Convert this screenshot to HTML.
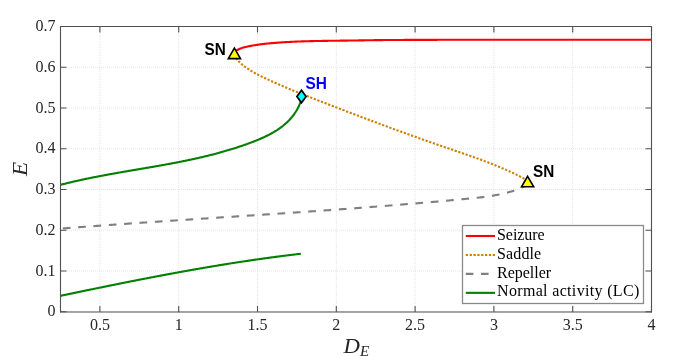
<!DOCTYPE html>
<html><head><meta charset="utf-8"><style>
html,body{margin:0;padding:0;background:#fff;width:685px;height:356px;overflow:hidden;}
svg{display:block;will-change:transform;}
</style></head><body>
<svg width="685" height="356" viewBox="0 0 685 356">
<rect x="0" y="0" width="685" height="356" fill="#fff"/>
<path d="M99.90,27 L99.90,311.7 M178.70,27 L178.70,311.7 M257.50,27 L257.50,311.7 M336.30,27 L336.30,311.7 M415.10,27 L415.10,311.7 M493.90,27 L493.90,311.7 M572.70,27 L572.70,311.7 M651.50,27 L651.50,311.7 M61,311.70 L651.5,311.70 M61,270.96 L651.5,270.96 M61,230.21 L651.5,230.21 M61,189.47 L651.5,189.47 M61,148.73 L651.5,148.73 M61,107.99 L651.5,107.99 M61,67.24 L651.5,67.24 M61,26.50 L651.5,26.50" stroke="#e4e4e4" stroke-width="1" stroke-dasharray="1 1" fill="none"/>
<path d="M60.59,295.82 L61.38,295.65 L62.18,295.48 L62.98,295.32 L63.78,295.15 L64.58,294.98 L65.38,294.81 L66.17,294.65 L66.97,294.48 L67.77,294.31 L68.57,294.14 L69.37,293.98 L70.16,293.81 L70.96,293.64 L71.76,293.47 L72.56,293.31 L73.36,293.14 L74.16,292.97 L74.96,292.81 L75.75,292.64 L76.55,292.47 L77.35,292.31 L78.15,292.14 L78.95,291.97 L79.75,291.81 L80.55,291.64 L81.34,291.47 L82.14,291.31 L82.94,291.14 L83.74,290.98 L84.54,290.81 L85.34,290.64 L86.14,290.48 L86.94,290.31 L87.73,290.15 L88.53,289.98 L89.33,289.82 L90.13,289.65 L90.93,289.49 L91.73,289.32 L92.53,289.16 L93.33,288.99 L94.13,288.83 L94.92,288.66 L95.72,288.50 L96.52,288.33 L97.32,288.17 L98.12,288.01 L98.92,287.84 L99.72,287.68 L100.52,287.51 L101.32,287.35 L102.12,287.19 L102.92,287.02 L103.72,286.86 L104.52,286.70 L105.32,286.53 L106.12,286.37 L106.91,286.21 L107.71,286.04 L108.51,285.88 L109.31,285.72 L110.11,285.56 L110.91,285.39 L111.71,285.23 L112.51,285.07 L113.31,284.91 L114.11,284.75 L114.91,284.59 L115.71,284.42 L116.51,284.26 L117.31,284.10 L118.11,283.94 L118.91,283.78 L119.71,283.62 L120.51,283.46 L121.31,283.30 L122.11,283.14 L122.91,282.98 L123.71,282.82 L124.51,282.66 L125.31,282.50 L126.11,282.34 L126.91,282.18 L127.71,282.02 L128.51,281.86 L129.31,281.70 L130.11,281.54 L130.91,281.39 L131.71,281.23 L132.52,281.07 L133.32,280.91 L134.12,280.75 L134.92,280.60 L135.72,280.44 L136.52,280.28 L137.32,280.12 L138.12,279.97 L138.92,279.81 L139.72,279.65 L140.52,279.50 L141.32,279.34 L142.12,279.19 L142.93,279.03 L143.73,278.87 L144.53,278.72 L145.33,278.56 L146.13,278.41 L146.93,278.25 L147.73,278.10 L148.53,277.94 L149.33,277.79 L150.14,277.64 L150.94,277.48 L151.74,277.33 L152.54,277.17 L153.34,277.02 L154.14,276.87 L154.94,276.72 L155.75,276.56 L156.55,276.41 L157.35,276.26 L158.15,276.11 L158.95,275.95 L159.75,275.80 L160.56,275.65 L161.36,275.50 L162.16,275.35 L162.96,275.20 L163.76,275.05 L164.57,274.90 L165.37,274.75 L166.17,274.60 L166.97,274.45 L167.77,274.30 L168.58,274.15 L169.38,274.00 L170.18,273.85 L170.98,273.70 L171.79,273.55 L172.59,273.41 L173.39,273.26 L174.19,273.11 L175.00,272.96 L175.80,272.82 L176.60,272.67 L177.40,272.52 L178.21,272.38 L179.01,272.23 L179.81,272.08 L180.61,271.94 L181.42,271.79 L182.22,271.65 L183.02,271.50 L183.83,271.36 L184.63,271.21 L185.43,271.07 L186.24,270.93 L187.04,270.78 L187.84,270.64 L188.65,270.50 L189.45,270.35 L190.25,270.21 L191.06,270.07 L191.86,269.93 L192.66,269.79 L193.47,269.64 L194.27,269.50 L195.07,269.36 L195.88,269.22 L196.68,269.08 L197.48,268.94 L198.29,268.80 L199.09,268.66 L199.90,268.52 L200.70,268.38 L201.50,268.24 L202.31,268.11 L203.11,267.97 L203.92,267.83 L204.72,267.69 L205.52,267.56 L206.33,267.42 L207.13,267.28 L207.94,267.15 L208.74,267.01 L209.55,266.87 L210.35,266.74 L211.16,266.60 L211.96,266.47 L212.76,266.33 L213.57,266.20 L214.37,266.06 L215.18,265.93 L215.98,265.80 L216.79,265.66 L217.59,265.53 L218.40,265.40 L219.20,265.27 L220.01,265.14 L220.81,265.00 L221.62,264.87 L222.42,264.74 L223.23,264.61 L224.04,264.48 L224.84,264.35 L225.65,264.22 L226.45,264.09 L227.26,263.96 L228.06,263.83 L228.87,263.71 L229.67,263.58 L230.48,263.45 L231.29,263.32 L232.09,263.20 L232.90,263.07 L233.70,262.94 L234.51,262.82 L235.32,262.69 L236.12,262.57 L236.93,262.44 L237.73,262.32 L238.54,262.19 L239.35,262.07 L240.15,261.95 L240.96,261.82 L241.77,261.70 L242.57,261.58 L243.38,261.45 L244.19,261.33 L244.99,261.21 L245.80,261.09 L246.61,260.97 L247.41,260.85 L248.22,260.73 L249.03,260.61 L249.83,260.49 L250.64,260.37 L251.45,260.25 L252.26,260.13 L253.06,260.02 L253.87,259.90 L254.68,259.78 L255.49,259.66 L256.29,259.55 L257.10,259.43 L257.91,259.32 L258.72,259.20 L259.52,259.09 L260.33,258.97 L261.14,258.86 L261.95,258.74 L262.76,258.63 L263.56,258.52 L264.37,258.41 L265.18,258.29 L265.99,258.18 L266.80,258.07 L267.60,257.96 L268.41,257.85 L269.22,257.74 L270.03,257.63 L270.84,257.52 L271.65,257.41 L272.46,257.30 L273.26,257.19 L274.07,257.09 L274.88,256.98 L275.69,256.87 L276.50,256.76 L277.31,256.66 L278.12,256.55 L278.93,256.45 L279.74,256.34 L280.55,256.24 L281.36,256.13 L282.16,256.03 L282.97,255.93 L283.78,255.82 L284.59,255.72 L285.40,255.62 L286.21,255.52 L287.02,255.42 L287.83,255.32 L288.64,255.22 L289.45,255.12 L290.26,255.02 L291.07,254.92 L291.88,254.82 L292.69,254.72 L293.50,254.62 L294.31,254.52 L295.12,254.43 L295.93,254.33 L296.74,254.24 L297.56,254.14 L298.37,254.04 L299.18,253.95 L299.99,253.86 L300.80,253.76" stroke="#008000" stroke-width="2.1" fill="none" stroke-linejoin="round"/>
<path d="M60.66,184.79 L61.52,184.56 L62.39,184.34 L63.26,184.12 L64.13,183.90 L64.99,183.68 L65.86,183.46 L66.73,183.25 L67.60,183.04 L68.47,182.83 L69.34,182.62 L70.21,182.41 L71.08,182.20 L71.95,182.00 L72.82,181.79 L73.69,181.59 L74.56,181.39 L75.43,181.19 L76.30,180.99 L77.18,180.79 L78.05,180.60 L78.92,180.40 L79.79,180.21 L80.67,180.02 L81.54,179.83 L82.41,179.64 L83.29,179.45 L84.16,179.27 L85.03,179.08 L85.91,178.90 L86.78,178.71 L87.66,178.53 L88.53,178.35 L89.41,178.17 L90.28,177.99 L91.16,177.82 L92.03,177.64 L92.91,177.46 L93.79,177.29 L94.66,177.12 L95.54,176.94 L96.41,176.77 L97.29,176.60 L98.17,176.43 L99.05,176.26 L99.92,176.09 L100.80,175.93 L101.68,175.76 L102.56,175.60 L103.43,175.43 L104.31,175.27 L105.19,175.10 L106.07,174.94 L106.95,174.78 L107.82,174.62 L108.70,174.46 L109.58,174.30 L110.46,174.14 L111.34,173.98 L112.22,173.82 L113.10,173.66 L113.98,173.51 L114.86,173.35 L115.74,173.20 L116.62,173.04 L117.50,172.88 L118.37,172.73 L119.25,172.58 L120.13,172.42 L121.01,172.27 L121.89,172.12 L122.77,171.96 L123.65,171.81 L124.54,171.66 L125.42,171.51 L126.30,171.36 L127.18,171.21 L128.06,171.05 L128.94,170.90 L129.82,170.75 L130.70,170.60 L131.58,170.45 L132.46,170.30 L133.34,170.15 L134.22,170.00 L135.10,169.85 L135.98,169.70 L136.86,169.55 L137.74,169.40 L138.62,169.25 L139.50,169.10 L140.38,168.95 L141.27,168.80 L142.15,168.65 L143.03,168.50 L143.91,168.35 L144.79,168.20 L145.67,168.05 L146.55,167.90 L147.43,167.75 L148.31,167.60 L149.19,167.45 L150.07,167.30 L150.95,167.14 L151.83,166.99 L152.71,166.84 L153.59,166.69 L154.47,166.53 L155.35,166.38 L156.23,166.23 L157.11,166.07 L157.99,165.92 L158.87,165.76 L159.75,165.61 L160.63,165.45 L161.51,165.29 L162.38,165.13 L163.26,164.98 L164.14,164.82 L165.02,164.66 L165.90,164.50 L166.78,164.34 L167.66,164.18 L168.53,164.01 L169.41,163.85 L170.29,163.69 L171.17,163.52 L172.05,163.36 L172.92,163.19 L173.80,163.03 L174.68,162.86 L175.56,162.69 L176.43,162.52 L177.31,162.35 L178.19,162.18 L179.06,162.01 L179.94,161.84 L180.81,161.67 L181.69,161.49 L182.57,161.32 L183.44,161.14 L184.32,160.96 L185.19,160.78 L186.07,160.60 L186.94,160.42 L187.82,160.24 L188.69,160.06 L189.56,159.87 L190.44,159.69 L191.31,159.50 L192.18,159.31 L193.06,159.13 L193.93,158.94 L194.80,158.74 L195.68,158.55 L196.55,158.36 L197.42,158.16 L198.29,157.97 L199.16,157.77 L200.03,157.57 L200.90,157.37 L201.77,157.16 L202.64,156.96 L203.51,156.75 L204.38,156.55 L205.25,156.34 L206.12,156.13 L206.99,155.92 L207.86,155.71 L208.73,155.49 L209.60,155.27 L210.46,155.06 L211.33,154.84 L212.20,154.62 L213.06,154.39 L213.93,154.17 L214.80,153.94 L215.66,153.71 L216.53,153.48 L217.39,153.25 L218.26,153.02 L219.12,152.78 L219.99,152.55 L220.85,152.31 L221.71,152.07 L222.58,151.83 L223.44,151.58 L224.30,151.33 L225.16,151.09 L226.02,150.84 L226.88,150.58 L227.74,150.33 L228.60,150.07 L229.46,149.81 L230.32,149.55 L231.18,149.29 L232.04,149.02 L232.90,148.76 L233.76,148.49 L234.62,148.22 L235.47,147.94 L236.33,147.67 L237.18,147.39 L238.04,147.11 L238.90,146.83 L239.75,146.54 L240.60,146.25 L241.46,145.96 L242.31,145.67 L243.17,145.38 L244.02,145.08 L244.87,144.78 L245.72,144.48 L246.57,144.18 L247.42,143.87 L248.27,143.56 L249.12,143.25 L249.97,142.93 L250.82,142.62 L251.67,142.30 L252.52,141.98 L253.36,141.65 L254.21,141.32 L255.05,140.99 L255.89,140.65 L256.73,140.32 L257.57,139.97 L258.40,139.63 L259.24,139.28 L260.07,138.92 L260.90,138.56 L261.72,138.20 L262.54,137.83 L263.36,137.46 L264.18,137.08 L264.99,136.70 L265.80,136.32 L266.61,135.93 L267.41,135.53 L268.21,135.13 L269.00,134.72 L269.79,134.31 L270.57,133.89 L271.35,133.46 L272.12,133.03 L272.89,132.60 L273.66,132.15 L274.42,131.70 L275.17,131.25 L275.92,130.78 L276.66,130.32 L277.39,129.84 L278.12,129.36 L278.84,128.87 L279.56,128.37 L280.27,127.86 L280.97,127.35 L281.66,126.83 L282.35,126.30 L283.03,125.77 L283.70,125.22 L284.37,124.67 L285.02,124.11 L285.67,123.54 L286.31,122.97 L286.95,122.38 L287.57,121.79 L288.18,121.18 L288.79,120.57 L289.39,119.95 L289.97,119.32 L290.55,118.68 L291.12,118.03 L291.68,117.37 L292.23,116.70 L292.76,116.02 L293.29,115.33 L293.81,114.63 L294.32,113.92 L294.81,113.20 L295.30,112.46 L295.77,111.72 L296.24,110.97 L296.69,110.20 L297.13,109.43 L297.55,108.64 L297.97,107.85 L298.38,107.04 L298.77,106.22 L299.15,105.38 L299.51,104.54 L299.87,103.68 L300.21,102.81 L300.54,101.93 L300.85,101.04 L301.15,100.13 L301.44,99.21 L301.71,98.28 L301.97,97.34 L302.22,96.38" stroke="#008000" stroke-width="2.1" fill="none" stroke-linejoin="round"/>
<path d="M62.45,228.50 L64.02,228.38 L65.58,228.25 L67.15,228.13 L68.72,228.01 L70.29,227.89 L71.86,227.77 L73.43,227.65 L75.00,227.53 L76.56,227.41 L78.13,227.29 L79.70,227.17 L81.27,227.05 L82.84,226.93 L84.41,226.81 L85.98,226.70 L87.55,226.58 L89.12,226.46 L90.69,226.35 L92.26,226.23 L93.83,226.11 L95.40,226.00 L96.97,225.88 L98.54,225.77 L100.11,225.65 L101.69,225.54 L103.26,225.42 L104.83,225.31 L106.40,225.20 L107.97,225.08 L109.54,224.97 L111.11,224.86 L112.68,224.75 L114.26,224.63 L115.83,224.52 L117.40,224.41 L118.97,224.30 L120.54,224.19 L122.11,224.08 L123.69,223.97 L125.26,223.86 L126.83,223.74 L128.40,223.64 L129.98,223.53 L131.55,223.42 L133.12,223.31 L134.69,223.20 L136.27,223.09 L137.84,222.98 L139.41,222.87 L140.98,222.76 L142.56,222.66 L144.13,222.55 L145.70,222.44 L147.28,222.33 L148.85,222.23 L150.42,222.12 L152.00,222.01 L153.57,221.91 L155.14,221.80 L156.72,221.69 L158.29,221.59 L159.86,221.48 L161.44,221.37 L163.01,221.27 L164.58,221.16 L166.16,221.06 L167.73,220.95 L169.30,220.85 L170.88,220.74 L172.45,220.64 L174.03,220.53 L175.60,220.43 L177.17,220.32 L178.75,220.22 L180.32,220.11 L181.90,220.01 L183.47,219.91 L185.04,219.80 L186.62,219.70 L188.19,219.59 L189.77,219.49 L191.34,219.39 L192.91,219.28 L194.49,219.18 L196.06,219.08 L197.64,218.97 L199.21,218.87 L200.78,218.77 L202.36,218.66 L203.93,218.56 L205.51,218.46 L207.08,218.35 L208.66,218.25 L210.23,218.15 L211.80,218.04 L213.38,217.94 L214.95,217.84 L216.53,217.73 L218.10,217.63 L219.67,217.53 L221.25,217.42 L222.82,217.32 L224.40,217.22 L225.97,217.12 L227.55,217.01 L229.12,216.91 L230.69,216.81 L232.27,216.70 L233.84,216.60 L235.42,216.50 L236.99,216.39 L238.56,216.29 L240.14,216.19 L241.71,216.08 L243.28,215.98 L244.86,215.88 L246.43,215.77 L248.01,215.67 L249.58,215.56 L251.15,215.46 L252.73,215.36 L254.30,215.25 L255.87,215.15 L257.45,215.04 L259.02,214.94 L260.59,214.84 L262.17,214.73 L263.74,214.63 L265.31,214.52 L266.89,214.42 L268.46,214.31 L270.03,214.21 L271.61,214.10 L273.18,214.00 L274.75,213.89 L276.33,213.79 L277.90,213.68 L279.47,213.57 L281.04,213.47 L282.62,213.36 L284.19,213.26 L285.76,213.15 L287.33,213.04 L288.91,212.94 L290.48,212.83 L292.05,212.72 L293.62,212.61 L295.19,212.51 L296.77,212.40 L298.34,212.29 L299.91,212.18 L301.48,212.07 L303.05,211.97 L304.62,211.86 L306.20,211.75 L307.77,211.64 L309.34,211.53 L310.91,211.42 L312.48,211.31 L314.05,211.20 L315.62,211.09 L317.19,210.98 L318.76,210.87 L320.33,210.76 L321.90,210.65 L323.47,210.53 L325.04,210.42 L326.61,210.31 L328.18,210.20 L329.75,210.08 L331.32,209.97 L332.89,209.86 L334.46,209.74 L336.03,209.63 L337.60,209.52 L339.17,209.40 L340.74,209.29 L342.31,209.17 L343.88,209.06 L345.45,208.94 L347.02,208.83 L348.59,208.71 L350.16,208.59 L351.72,208.48 L353.29,208.36 L354.86,208.24 L356.43,208.12 L358.00,208.00 L359.57,207.89 L361.14,207.77 L362.71,207.65 L364.28,207.53 L365.84,207.41 L367.41,207.29 L368.98,207.17 L370.55,207.05 L372.12,206.92 L373.69,206.80 L375.26,206.68 L376.83,206.56 L378.40,206.43 L379.97,206.31 L381.54,206.19 L383.11,206.06 L384.68,205.94 L386.25,205.81 L387.81,205.69 L389.38,205.56 L390.96,205.44 L392.53,205.31 L394.10,205.18 L395.67,205.06 L397.24,204.93 L398.81,204.80 L400.38,204.67 L401.95,204.54 L403.52,204.41 L405.09,204.28 L406.66,204.15 L408.24,204.02 L409.81,203.89 L411.38,203.76 L412.95,203.62 L414.52,203.49 L416.10,203.36 L417.67,203.22 L419.24,203.09 L420.82,202.95 L422.39,202.82 L423.96,202.68 L425.54,202.55 L427.11,202.41 L428.69,202.27 L430.26,202.14 L431.84,202.00 L433.41,201.86 L434.99,201.72 L436.56,201.58 L438.14,201.44 L439.72,201.30 L441.29,201.16 L442.87,201.02 L444.45,200.87 L446.02,200.73 L447.60,200.59 L449.18,200.44 L450.76,200.30 L452.34,200.15 L453.92,200.01 L455.50,199.86 L457.08,199.71 L458.66,199.57 L460.24,199.42 L461.82,199.27 L463.40,199.12 L464.98,198.97 L466.57,198.82 L468.15,198.67 L469.73,198.52 L471.31,198.36 L472.89,198.21 L474.48,198.04 L476.06,197.88 L477.63,197.71 L479.21,197.53 L480.79,197.35 L482.36,197.16 L483.93,196.96 L485.50,196.76 L487.06,196.55 L488.63,196.32 L490.18,196.09 L491.74,195.85 L493.29,195.59 L494.84,195.33 L496.38,195.05 L497.92,194.76 L499.45,194.45 L500.98,194.13 L502.50,193.79 L504.01,193.44 L505.53,193.07 L507.03,192.68 L508.53,192.28 L510.02,191.86 L511.50,191.41 L512.98,190.95 L514.44,190.47 L515.90,189.97 L517.36,189.44 L518.80,188.89 L520.22,188.31 L521.61,187.68 L522.96,186.98 L524.24,186.20 L525.45,185.32 L526.57,184.33 L527.59,183.22 L528.49,181.96" stroke="#808080" stroke-width="2.1" fill="none" stroke-dasharray="7.7 7.67" stroke-dashoffset="-0.4"/>
<path d="M233.41,53.50 L233.88,54.45 L234.38,55.38 L234.90,56.28 L235.46,57.16 L236.05,58.02 L236.66,58.85 L237.31,59.66 L237.97,60.45 L238.66,61.22 L239.38,61.97 L240.12,62.71 L240.87,63.42 L241.65,64.12 L242.45,64.80 L243.26,65.47 L244.09,66.12 L244.94,66.75 L245.80,67.38 L246.67,67.99 L247.55,68.59 L248.45,69.18 L249.35,69.76 L250.27,70.33 L251.19,70.89 L252.12,71.44 L253.06,71.99 L254.00,72.52 L254.96,73.05 L255.91,73.57 L256.88,74.09 L257.84,74.59 L258.82,75.09 L259.79,75.59 L260.77,76.08 L261.75,76.57 L262.74,77.05 L263.73,77.53 L264.71,78.00 L265.70,78.47 L266.69,78.94 L267.68,79.40 L268.67,79.87 L269.66,80.33 L270.65,80.78 L271.65,81.24 L272.64,81.69 L273.63,82.14 L274.63,82.58 L275.62,83.03 L276.61,83.47 L277.61,83.91 L278.60,84.34 L279.60,84.78 L280.59,85.21 L281.59,85.64 L282.59,86.07 L283.58,86.50 L284.58,86.92 L285.58,87.34 L286.58,87.76 L287.58,88.18 L288.58,88.60 L289.58,89.02 L290.57,89.43 L291.57,89.84 L292.57,90.25 L293.58,90.66 L294.58,91.07 L295.58,91.48 L296.58,91.88 L297.58,92.29 L298.58,92.69 L299.59,93.09 L300.59,93.50 L301.59,93.90 L302.59,94.30 L303.60,94.69 L304.60,95.09 L305.61,95.49 L306.61,95.89 L307.61,96.28 L308.62,96.68 L309.62,97.07 L310.63,97.47 L311.63,97.86 L312.64,98.25 L313.64,98.65 L314.65,99.04 L315.66,99.43 L316.66,99.82 L317.67,100.22 L318.67,100.61 L319.68,101.00 L320.69,101.39 L321.69,101.78 L322.70,102.18 L323.71,102.57 L324.72,102.96 L325.72,103.35 L326.73,103.74 L327.74,104.13 L328.75,104.52 L329.76,104.91 L330.76,105.30 L331.77,105.69 L332.78,106.08 L333.79,106.47 L334.80,106.86 L335.81,107.25 L336.82,107.64 L337.83,108.03 L338.84,108.42 L339.85,108.80 L340.86,109.19 L341.87,109.58 L342.88,109.97 L343.89,110.35 L344.90,110.74 L345.91,111.13 L346.92,111.52 L347.93,111.90 L348.94,112.29 L349.95,112.67 L350.97,113.06 L351.98,113.45 L352.99,113.83 L354.00,114.22 L355.01,114.60 L356.03,114.98 L357.04,115.37 L358.05,115.75 L359.07,116.14 L360.08,116.52 L361.09,116.90 L362.11,117.29 L363.12,117.67 L364.13,118.05 L365.15,118.43 L366.16,118.81 L367.17,119.19 L368.19,119.58 L369.20,119.96 L370.22,120.34 L371.23,120.72 L372.25,121.10 L373.26,121.48 L374.28,121.86 L375.29,122.24 L376.31,122.61 L377.33,122.99 L378.34,123.37 L379.36,123.75 L380.37,124.13 L381.39,124.50 L382.41,124.88 L383.42,125.26 L384.44,125.63 L385.46,126.01 L386.48,126.38 L387.49,126.76 L388.51,127.13 L389.53,127.51 L390.55,127.88 L391.56,128.26 L392.58,128.63 L393.60,129.00 L394.62,129.37 L395.64,129.75 L396.66,130.12 L397.68,130.49 L398.70,130.86 L399.71,131.23 L400.73,131.60 L401.75,131.97 L402.77,132.34 L403.79,132.71 L404.81,133.08 L405.83,133.45 L406.85,133.82 L407.87,134.19 L408.90,134.55 L409.92,134.92 L410.94,135.29 L411.96,135.65 L412.98,136.02 L414.00,136.38 L415.02,136.75 L416.04,137.11 L417.07,137.48 L418.09,137.84 L419.11,138.21 L420.13,138.57 L421.16,138.93 L422.18,139.29 L423.20,139.65 L424.23,140.02 L425.25,140.38 L426.27,140.74 L427.30,141.10 L428.32,141.46 L429.34,141.82 L430.37,142.17 L431.39,142.53 L432.41,142.89 L433.44,143.25 L434.46,143.60 L435.49,143.96 L436.51,144.32 L437.54,144.67 L438.56,145.03 L439.59,145.38 L440.61,145.74 L441.64,146.09 L442.67,146.44 L443.69,146.79 L444.72,147.15 L445.74,147.50 L446.77,147.85 L447.80,148.20 L448.82,148.55 L449.85,148.90 L450.88,149.25 L451.90,149.60 L452.93,149.95 L453.96,150.30 L454.98,150.65 L456.01,151.00 L457.04,151.35 L458.06,151.70 L459.09,152.05 L460.11,152.41 L461.14,152.76 L462.16,153.11 L463.19,153.46 L464.21,153.82 L465.24,154.17 L466.26,154.53 L467.29,154.88 L468.31,155.24 L469.33,155.60 L470.35,155.96 L471.38,156.32 L472.40,156.68 L473.42,157.04 L474.44,157.40 L475.46,157.77 L476.48,158.13 L477.49,158.50 L478.51,158.87 L479.53,159.24 L480.55,159.61 L481.56,159.99 L482.58,160.36 L483.59,160.74 L484.60,161.12 L485.61,161.50 L486.63,161.89 L487.64,162.27 L488.65,162.66 L489.65,163.05 L490.66,163.44 L491.67,163.84 L492.67,164.24 L493.68,164.64 L494.68,165.04 L495.68,165.44 L496.68,165.85 L497.68,166.26 L498.68,166.67 L499.68,167.09 L500.68,167.51 L501.67,167.93 L502.67,168.35 L503.66,168.78 L504.65,169.21 L505.64,169.65 L506.63,170.09 L507.61,170.53 L508.60,170.97 L509.58,171.42 L510.57,171.87 L511.55,172.32 L512.53,172.78 L513.51,173.25 L514.48,173.71 L515.46,174.18 L516.43,174.66 L517.40,175.13 L518.37,175.62 L519.34,176.10 L520.30,176.59 L521.27,177.09 L522.23,177.59 L523.19,178.09 L524.15,178.60 L525.11,179.11 L526.06,179.62 L527.02,180.15 L527.97,180.67" stroke="#cc8000" stroke-width="2.1" fill="none" stroke-dasharray="2.2 1.65" stroke-dashoffset="-1.4"/>
<path d="M234.40,53.00 L234.45,52.83 L234.50,52.67 L234.55,52.50 L234.60,52.34 L234.65,52.19 L234.69,52.05 L234.74,51.92 L234.79,51.80 L234.84,51.70 L234.89,51.61 L234.94,51.54 L234.99,51.47 L235.04,51.41 L235.09,51.35 L235.14,51.29 L235.19,51.24 L235.24,51.18 L235.28,51.13 L235.33,51.09 L235.38,51.04 L235.43,51.00 L235.48,50.96 L235.53,50.92 L235.58,50.88 L235.63,50.84 L235.68,50.81 L235.73,50.77 L235.78,50.74 L235.83,50.71 L235.87,50.68 L235.92,50.65 L235.97,50.62 L236.02,50.59 L236.07,50.56 L236.12,50.53 L236.17,50.50 L236.22,50.48 L236.27,50.45 L236.32,50.43 L236.37,50.40 L236.42,50.38 L236.46,50.36 L236.51,50.33 L236.56,50.31 L236.61,50.29 L236.66,50.27 L236.71,50.25 L236.76,50.23 L236.81,50.21 L236.86,50.19 L236.91,50.17 L236.96,50.15 L237.01,50.13 L237.05,50.11 L237.10,50.09 L237.15,50.07 L237.20,50.04 L237.25,50.02 L237.30,50.00 L238.34,49.50 L239.38,49.00 L240.41,48.54 L241.45,48.18 L242.49,47.86 L243.53,47.56 L244.57,47.29 L245.60,47.04 L246.64,46.79 L247.68,46.55 L248.72,46.32 L249.76,46.11 L250.80,45.90 L251.83,45.70 L252.87,45.52 L253.91,45.34 L254.95,45.17 L255.99,45.01 L257.02,44.86 L258.06,44.70 L259.10,44.55 L260.14,44.41 L261.18,44.27 L262.21,44.13 L263.25,44.00 L264.29,43.88 L265.33,43.76 L266.37,43.65 L267.40,43.54 L268.44,43.44 L269.48,43.35 L270.52,43.26 L271.56,43.17 L272.60,43.08 L273.63,43.00 L274.67,42.91 L275.71,42.83 L276.75,42.75 L277.79,42.67 L278.82,42.59 L279.86,42.52 L280.90,42.44 L281.94,42.37 L282.98,42.30 L284.01,42.24 L285.05,42.17 L286.09,42.11 L287.13,42.05 L288.17,41.99 L289.20,41.94 L290.24,41.89 L291.28,41.84 L292.32,41.79 L293.36,41.74 L294.40,41.69 L295.43,41.65 L296.47,41.60 L297.51,41.56 L298.55,41.52 L299.59,41.48 L300.62,41.44 L301.66,41.40 L302.70,41.36 L303.74,41.33 L304.78,41.30 L305.81,41.26 L306.85,41.23 L307.89,41.20 L308.93,41.18 L309.97,41.15 L311.00,41.13 L312.04,41.10 L313.08,41.08 L314.12,41.06 L315.16,41.04 L316.20,41.02 L317.23,41.00 L318.27,40.98 L319.31,40.96 L320.35,40.95 L321.39,40.93 L322.42,40.91 L323.46,40.90 L324.50,40.88 L325.54,40.87 L326.58,40.85 L327.61,40.83 L328.65,40.82 L329.69,40.80 L330.73,40.79 L331.77,40.78 L332.80,40.76 L333.84,40.75 L334.88,40.73 L335.92,40.72 L336.96,40.71 L338.00,40.70 L339.03,40.68 L340.07,40.67 L341.11,40.66 L342.15,40.65 L343.19,40.64 L344.22,40.62 L345.26,40.61 L346.30,40.60 L347.34,40.58 L348.38,40.57 L349.41,40.56 L350.45,40.54 L351.49,40.53 L352.53,40.51 L353.57,40.50 L354.60,40.48 L355.64,40.47 L356.68,40.45 L357.72,40.43 L358.76,40.41 L359.80,40.40 L360.83,40.38 L361.87,40.36 L362.91,40.34 L363.95,40.33 L364.99,40.31 L366.02,40.29 L367.06,40.27 L368.10,40.26 L369.14,40.24 L370.18,40.22 L371.21,40.21 L372.25,40.19 L373.29,40.18 L374.33,40.16 L375.37,40.15 L376.40,40.14 L377.44,40.13 L378.48,40.11 L379.52,40.10 L380.56,40.09 L381.60,40.09 L382.63,40.08 L383.67,40.07 L384.71,40.06 L385.75,40.05 L386.79,40.04 L387.82,40.03 L388.86,40.02 L389.90,40.02 L390.94,40.01 L391.98,40.00 L393.01,39.99 L394.05,39.98 L395.09,39.98 L396.13,39.97 L397.17,39.96 L398.20,39.96 L399.24,39.95 L400.28,39.94 L401.32,39.94 L402.36,39.93 L403.40,39.93 L404.43,39.92 L405.47,39.92 L406.51,39.91 L407.55,39.91 L408.59,39.90 L409.62,39.90 L410.66,39.90 L411.70,39.89 L412.74,39.89 L413.78,39.89 L414.81,39.88 L415.85,39.88 L416.89,39.88 L417.93,39.88 L418.97,39.87 L420.00,39.87 L421.04,39.87 L422.08,39.86 L423.12,39.86 L424.16,39.86 L425.20,39.85 L426.23,39.85 L427.27,39.85 L428.31,39.85 L429.35,39.84 L430.39,39.84 L431.42,39.84 L432.46,39.84 L433.50,39.83 L434.54,39.83 L435.58,39.83 L436.61,39.83 L437.65,39.82 L438.69,39.82 L439.73,39.82 L440.77,39.82 L441.80,39.82 L442.84,39.81 L443.88,39.81 L444.92,39.81 L445.96,39.81 L447.00,39.81 L448.03,39.81 L449.07,39.81 L450.11,39.81 L451.15,39.80 L452.19,39.80 L453.22,39.80 L454.26,39.80 L455.30,39.80 L456.34,39.80 L457.38,39.80 L458.41,39.80 L459.45,39.80 L460.49,39.80 L461.53,39.80 L462.57,39.80 L463.60,39.80 L464.64,39.80 L465.68,39.80 L466.72,39.80 L467.76,39.80 L468.80,39.80 L469.83,39.80 L470.87,39.80 L471.91,39.80 L472.95,39.80 L473.99,39.80 L475.02,39.80 L476.06,39.80 L477.10,39.80 L478.14,39.80 L479.18,39.80 L480.21,39.80 L481.25,39.80 L482.29,39.80 L483.33,39.80 L484.37,39.80 L485.40,39.80 L486.44,39.80 L487.48,39.80 L488.52,39.80 L489.56,39.80 L490.60,39.80 L491.63,39.80 L492.67,39.80 L493.71,39.80 L494.75,39.80 L495.79,39.80 L496.82,39.80 L497.86,39.80 L498.90,39.80 L499.94,39.80 L500.98,39.80 L502.01,39.80 L503.05,39.80 L504.09,39.80 L505.13,39.80 L506.17,39.80 L507.20,39.80 L508.24,39.80 L509.28,39.80 L510.32,39.80 L511.36,39.80 L512.40,39.80 L513.43,39.80 L514.47,39.80 L515.51,39.80 L516.55,39.80 L517.59,39.80 L518.62,39.80 L519.66,39.80 L520.70,39.80 L521.74,39.80 L522.78,39.80 L523.81,39.80 L524.85,39.80 L525.89,39.80 L526.93,39.80 L527.97,39.80 L529.00,39.80 L530.04,39.80 L531.08,39.80 L532.12,39.80 L533.16,39.80 L534.20,39.80 L535.23,39.80 L536.27,39.80 L537.31,39.80 L538.35,39.80 L539.39,39.80 L540.42,39.80 L541.46,39.80 L542.50,39.80 L543.54,39.80 L544.58,39.80 L545.61,39.80 L546.65,39.80 L547.69,39.80 L548.73,39.80 L549.77,39.80 L550.80,39.80 L551.84,39.80 L552.88,39.80 L553.92,39.80 L554.96,39.80 L556.00,39.80 L557.03,39.80 L558.07,39.80 L559.11,39.80 L560.15,39.80 L561.19,39.80 L562.22,39.80 L563.26,39.80 L564.30,39.80 L565.34,39.80 L566.38,39.80 L567.41,39.80 L568.45,39.80 L569.49,39.80 L570.53,39.80 L571.57,39.80 L572.60,39.80 L573.64,39.80 L574.68,39.80 L575.72,39.80 L576.76,39.80 L577.80,39.80 L578.83,39.80 L579.87,39.80 L580.91,39.80 L581.95,39.80 L582.99,39.80 L584.02,39.80 L585.06,39.80 L586.10,39.80 L587.14,39.80 L588.18,39.80 L589.21,39.80 L590.25,39.80 L591.29,39.80 L592.33,39.80 L593.37,39.80 L594.40,39.80 L595.44,39.80 L596.48,39.80 L597.52,39.80 L598.56,39.80 L599.60,39.80 L600.63,39.80 L601.67,39.80 L602.71,39.80 L603.75,39.80 L604.79,39.80 L605.82,39.80 L606.86,39.80 L607.90,39.80 L608.94,39.80 L609.98,39.80 L611.01,39.80 L612.05,39.80 L613.09,39.80 L614.13,39.80 L615.17,39.80 L616.20,39.80 L617.24,39.80 L618.28,39.80 L619.32,39.80 L620.36,39.80 L621.40,39.80 L622.43,39.80 L623.47,39.80 L624.51,39.80 L625.55,39.80 L626.59,39.80 L627.62,39.80 L628.66,39.80 L629.70,39.80 L630.74,39.80 L631.78,39.80 L632.81,39.80 L633.85,39.80 L634.89,39.80 L635.93,39.80 L636.97,39.80 L638.00,39.80 L639.04,39.80 L640.08,39.80 L641.12,39.80 L642.16,39.80 L643.20,39.80 L644.23,39.80 L645.27,39.80 L646.31,39.80 L647.35,39.80 L648.39,39.80 L649.42,39.80 L650.46,39.80 L651.50,39.80" stroke="#ff0000" stroke-width="2.1" fill="none" stroke-linejoin="round"/>
<path d="M99.90,312 L99.90,305.9 M99.90,26.5 L99.90,32.5 M178.70,312 L178.70,305.9 M178.70,26.5 L178.70,32.5 M257.50,312 L257.50,305.9 M257.50,26.5 L257.50,32.5 M336.30,312 L336.30,305.9 M336.30,26.5 L336.30,32.5 M415.10,312 L415.10,305.9 M415.10,26.5 L415.10,32.5 M493.90,312 L493.90,305.9 M493.90,26.5 L493.90,32.5 M572.70,312 L572.70,305.9 M572.70,26.5 L572.70,32.5 M651.50,312 L651.50,305.9 M651.50,26.5 L651.50,32.5 M60.5,311.70 L66.5,311.70 M651.5,311.70 L645.5,311.70 M60.5,270.96 L66.5,270.96 M651.5,270.96 L645.5,270.96 M60.5,230.21 L66.5,230.21 M651.5,230.21 L645.5,230.21 M60.5,189.47 L66.5,189.47 M651.5,189.47 L645.5,189.47 M60.5,148.73 L66.5,148.73 M651.5,148.73 L645.5,148.73 M60.5,107.99 L66.5,107.99 M651.5,107.99 L645.5,107.99 M60.5,67.24 L66.5,67.24 M651.5,67.24 L645.5,67.24 M60.5,26.50 L66.5,26.50 M651.5,26.50 L645.5,26.50" stroke="#505050" stroke-width="1.1" fill="none"/>
<path d="M60.5,26.5 L651.5,26.5 M60.5,25.95 L60.5,312.6 M651.5,25.95 L651.5,312.6" fill="none" stroke="#505050" stroke-width="1.1"/>
<path d="M59.95,312.0 L652.05,312.0" fill="none" stroke="#505050" stroke-width="1.2"/>
<g font-family="'Liberation Serif', serif" font-size="16" fill="#262626"><text x="99.90" y="330.2" text-anchor="middle">0.5</text><text x="178.70" y="330.2" text-anchor="middle">1</text><text x="257.50" y="330.2" text-anchor="middle">1.5</text><text x="336.30" y="330.2" text-anchor="middle">2</text><text x="415.10" y="330.2" text-anchor="middle">2.5</text><text x="493.90" y="330.2" text-anchor="middle">3</text><text x="572.70" y="330.2" text-anchor="middle">3.5</text><text x="651.50" y="330.2" text-anchor="middle">4</text><text x="55.6" y="316.30" text-anchor="end">0</text><text x="55.6" y="275.56" text-anchor="end">0.1</text><text x="55.6" y="234.81" text-anchor="end">0.2</text><text x="55.6" y="194.07" text-anchor="end">0.3</text><text x="55.6" y="153.33" text-anchor="end">0.4</text><text x="55.6" y="112.59" text-anchor="end">0.5</text><text x="55.6" y="71.84" text-anchor="end">0.6</text><text x="55.6" y="31.10" text-anchor="end">0.7</text></g>
<text font-family="'Liberation Serif', serif" font-style="italic" font-size="20.5" fill="#262626" transform="translate(26.6,176.1) rotate(-90)" textLength="14.2" lengthAdjust="spacingAndGlyphs">E</text>
<text font-family="'Liberation Serif', serif" font-style="italic" font-size="20.5" fill="#262626" x="343.4" y="352.7" textLength="16.4" lengthAdjust="spacingAndGlyphs">D</text>
<text font-family="'Liberation Serif', serif" font-style="italic" font-size="15" fill="#262626" x="359.9" y="355.9">E</text>
<path d="M234.40,48.15 L240.50,58.60 L228.30,58.60 Z" fill="#ffff00" stroke="#000" stroke-width="1.6" stroke-linejoin="miter" stroke-miterlimit="10"/>
<path d="M527.60,176.35 L533.70,186.80 L521.50,186.80 Z" fill="#ffff00" stroke="#000" stroke-width="1.6" stroke-linejoin="miter" stroke-miterlimit="10"/>
<path d="M301.50,90.15 L306.10,96.50 L301.50,102.85 L296.90,96.50 Z" fill="#00ffff" stroke="#000" stroke-width="1.7" stroke-linejoin="miter" stroke-miterlimit="10"/>
<text font-family="'Liberation Sans', sans-serif" font-weight="bold" font-size="15" fill="#000" transform="translate(204.5,54.8) scale(1.02,1.14)">SN</text>
<text font-family="'Liberation Sans', sans-serif" font-weight="bold" font-size="15" fill="#000" transform="translate(533.1,176.6) scale(1.02,1.14)">SN</text>
<text font-family="'Liberation Sans', sans-serif" font-weight="bold" font-size="15" fill="#0000ff" transform="translate(305.4,88.6) scale(1.03,1.14)">SH</text>
<rect x="462.5" y="225.5" width="181.0" height="78.0" fill="#fff" stroke="#8a8a8a" stroke-width="1.3"/>
<path d="M465.8,236.00 L495.0,236.00" stroke="#ff0000" stroke-width="2.1" fill="none"/>
<text font-family="'Liberation Serif', serif" font-size="16" fill="#000" x="497" y="240.10" textLength="47.7" lengthAdjust="spacing">Seizure</text>
<path d="M465.8,254.95 L495.0,254.95" stroke="#cc8000" stroke-width="2.1" stroke-dasharray="2.25 1.59" fill="none"/>
<text font-family="'Liberation Serif', serif" font-size="16" fill="#000" x="497" y="258.85" textLength="44.2" lengthAdjust="spacing">Saddle</text>
<path d="M465.8,273.90 L495.0,273.90" stroke="#808080" stroke-width="2.1" stroke-dasharray="7.6 7.6" fill="none"/>
<text font-family="'Liberation Serif', serif" font-size="16" fill="#000" x="497" y="277.60" textLength="54.1" lengthAdjust="spacing">Repeller</text>
<path d="M465.8,292.85 L495.0,292.85" stroke="#008000" stroke-width="2.1" fill="none"/>
<text font-family="'Liberation Serif', serif" font-size="16" fill="#000" x="497" y="296.35" textLength="142.3" lengthAdjust="spacing">Normal activity (LC)</text>
</svg>
</body></html>
